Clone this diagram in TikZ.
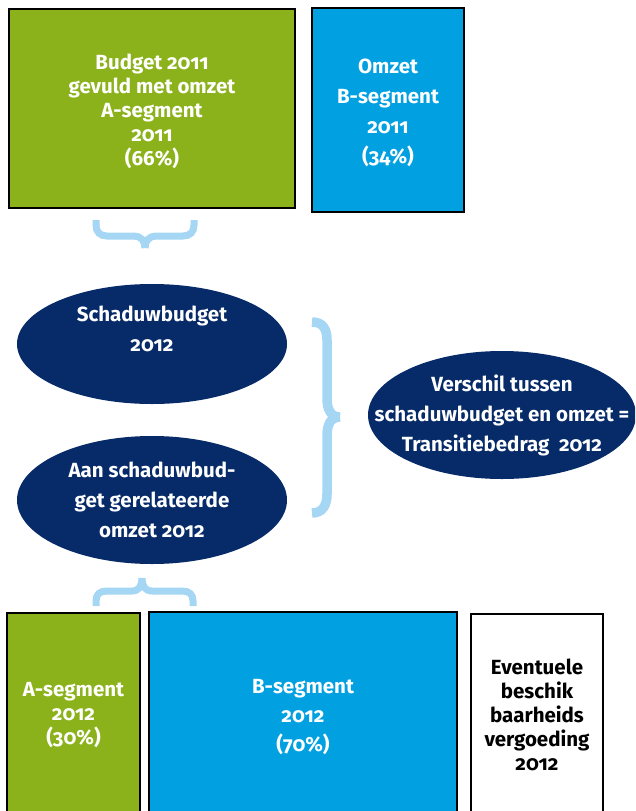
\documentclass[tikz,border=0pt]{standalone}
\usepackage{fontspec}
\setmainfont{Fira Sans}[Numbers=OldStyle]
\usetikzlibrary{shapes.geometric}
\definecolor{agreen}{RGB}{139,178,26}
\definecolor{bblue}{RGB}{0,160,225}
\definecolor{navy}{RGB}{6,43,104}
\definecolor{bracecol}{RGB}{165,215,245}
\begin{document}
\begin{tikzpicture}[x=1pt,y=-1pt,
  box/.style={draw=black, line width=2pt, rectangle, inner sep=0pt},
  greenbox/.style={box, fill=agreen, text=white, align=center, font=\bfseries\fontsize{20.5}{24}\selectfont},
  bluebox/.style={box, fill=bblue, text=white, align=center, font=\bfseries\fontsize{20.5}{30}\selectfont},
  whitebox/.style={box, fill=white},
  txt/.style={inner sep=0pt, align=center, font=\bfseries\fontsize{20.5}{24}\selectfont},
  oval/.style={ellipse, fill=navy, inner xsep=-60pt, inner ysep=-30pt, text=white, align=center, font=\bfseries\fontsize{20.5}{30}\selectfont},
  bracestyle/.style={draw=bracecol, line width=7pt, line cap=butt}
]
\useasboundingbox (0,0) rectangle (635,811);
\clip (0,0) rectangle (635,811);
% top boxes
\node[greenbox, minimum width=286pt, minimum height=199pt] (a11) at (152,108.5) {};
\node[txt, text=white] (a11t) at (152,111) {Budget 2011\\gevuld met omzet\\A-segment\\2011\\(66\%)};
\node[bluebox, minimum width=152pt, minimum height=204pt] (b11) at (388,110) {};
\node[txt, text=white, font=\bfseries\fontsize{20.5}{30}\selectfont] (b11t) at (388,113) {Omzet\\B-segment\\2011\\(34\%)};
% ellipses
\node[oval, minimum width=270pt, minimum height=120pt] (sb) at (152,344)
  {Schaduwbudget\\2012\\\mbox{}};
\node[oval, minimum width=270pt, minimum height=128pt] (om) at (152,500)
  {Aan schaduwbud-\\get gerelateerde\\omzet 2012};
\node[oval, minimum width=268pt, minimum height=128pt] (tr) at (502,415)
  {Verschil tussen\\schaduwbudget en omzet =\\Transitiebedrag\ \ 2012};
% bottom boxes
\node[box, fill=agreen, minimum width=133pt, minimum height=227pt] (a12) at (73.5,726.5) {};
\node[box, fill=bblue, minimum width=308pt, minimum height=227pt] (b12) at (303,725.5) {};
\node[whitebox, minimum width=132pt, minimum height=227pt] (v12) at (537,727.5) {};
\node[txt, text=white] (a12t) at (73.5,715) {A-segment\\2012\\(30\%)};
\node[txt, text=white, font=\bfseries\fontsize{20.5}{29}\selectfont] (b12t) at (303,717) {B-segment\\2012\\(70\%)};
\node[txt, text=black] (v12t) at (537,715) {Eventuele\\beschik\\baarheids\\vergoeding\\2012};
% braces (each half drawn separately, so the tip is a flat cut)
\draw[bracestyle] (96,220) -- (96,225) .. controls (96,232) and (100,236) .. (107,236) -- (134,236)
  .. controls (141,236) and (145,241) .. (145,248);
\draw[bracestyle] (145,248) .. controls (145,241) and (149,236) .. (156,236) -- (183,236)
  .. controls (190,236) and (194,232) .. (194,225) -- (194,220);
\draw[bracestyle, line width=9.5pt] (312,322) .. controls (322,322) and (327,328) .. (327,340) -- (327,398)
  .. controls (327,410) and (331,417) .. (340,417);
\draw[bracestyle, line width=9.5pt] (340,417) .. controls (331,417) and (327,424) .. (327,436) -- (327,494)
  .. controls (327,506) and (322,513) .. (312,513);
\draw[bracestyle] (96,606) -- (96,601) .. controls (96,594) and (100,591) .. (107,591) -- (132,591)
  .. controls (139,591) and (142,586) .. (142,578);
\draw[bracestyle] (142,578) .. controls (142,586) and (145,591) .. (152,591) -- (182,591)
  .. controls (189,591) and (193,594) .. (193,601) -- (193,606);
\end{tikzpicture}
\end{document}
